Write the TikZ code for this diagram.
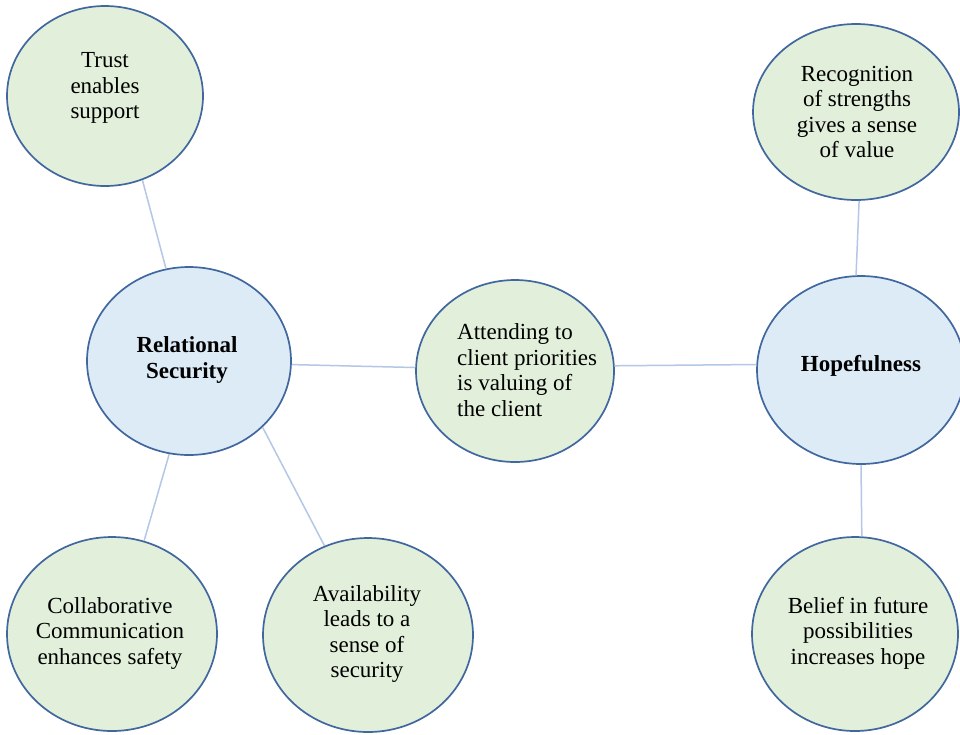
\documentclass[tikz,border=0pt]{standalone}
\usepackage{fontspec}
\setmainfont{Liberation Serif}
\usetikzlibrary{shapes.geometric}
\definecolor{greenfill}{HTML}{E2EFDA}
\definecolor{bluefill}{HTML}{DDEBF7}
\definecolor{rimcol}{HTML}{41679F}
\definecolor{linkcol}{HTML}{B4C7E7}
\tikzset{
  bubble/.style={ellipse, draw=rimcol, line width=1.7pt, inner sep=0pt},
  greenbubble/.style={bubble, fill=greenfill},
  bluebubble/.style={bubble, fill=bluefill},
  label/.style={inner sep=0pt, align=center, font=\fontsize{23}{25.5}\selectfont},
  link/.style={draw=linkcol, line width=1.5pt}
}
\begin{document}
\begin{tikzpicture}[x=1pt, y=-1pt]
\clip (0,0) rectangle (960,734);
\fill[white] (0,0) rectangle (960,734);
% ellipses
\node[greenbubble, minimum width=196pt, minimum height=180pt] (trust) at (105,96) {};
\node[bluebubble, minimum width=204pt, minimum height=188pt] (rel) at (189,361) {};
\node[greenbubble, minimum width=198pt, minimum height=182pt] (att) at (515,371) {};
\node[bluebubble, minimum width=208pt, minimum height=188pt] (hope) at (861,370) {};
\node[greenbubble, minimum width=206pt, minimum height=176pt] (recog) at (856,112) {};
\node[greenbubble, minimum width=210pt, minimum height=194pt] (collab) at (112,634) {};
\node[greenbubble, minimum width=210pt, minimum height=194pt] (avail) at (368,635) {};
\node[greenbubble, minimum width=206pt, minimum height=194pt] (belief) at (855,634) {};
% connectors
\draw[link] (trust.-66.6) -- (rel.104.5);
\draw[link] (rel.-102.2) -- (collab.71);
\draw[link] (rel.-42.2) -- (avail.116.3);
\draw[link] (rel.-2.1) -- (att.178.3);
\draw[link] (att.3.5) -- (hope.177.8);
\draw[link] (recog.-88.8) -- (hope.93.1);
\draw[link] (hope.-90.6) -- (belief.86);
% texts
\node[label] (trustT) at (105,88) {Trust\\enables\\support};
\node[label, font=\fontsize{23}{25.5}\selectfont\bfseries] (relT) at (187,360) {Relational\\Security};
\node[label, align=left, anchor=west] (attT) at (457,370) {Attending to\\client priorities\\is valuing of\\the client};
\node[label, font=\fontsize{23}{25.5}\selectfont\bfseries] (hopeT) at (861,366) {Hopefulness};
\node[label] (recogT) at (857,112) {Recognition\\of strengths\\gives a sense\\of value};
\node[label] (collabT) at (110,633) {Collaborative\\Communication\\enhances safety};
\node[label] (availT) at (367,634) {Availability\\leads to a\\sense of\\security};
\node[label] (beliefT) at (858,633) {Belief in future\\possibilities\\increases hope};
\end{tikzpicture}
\end{document}
